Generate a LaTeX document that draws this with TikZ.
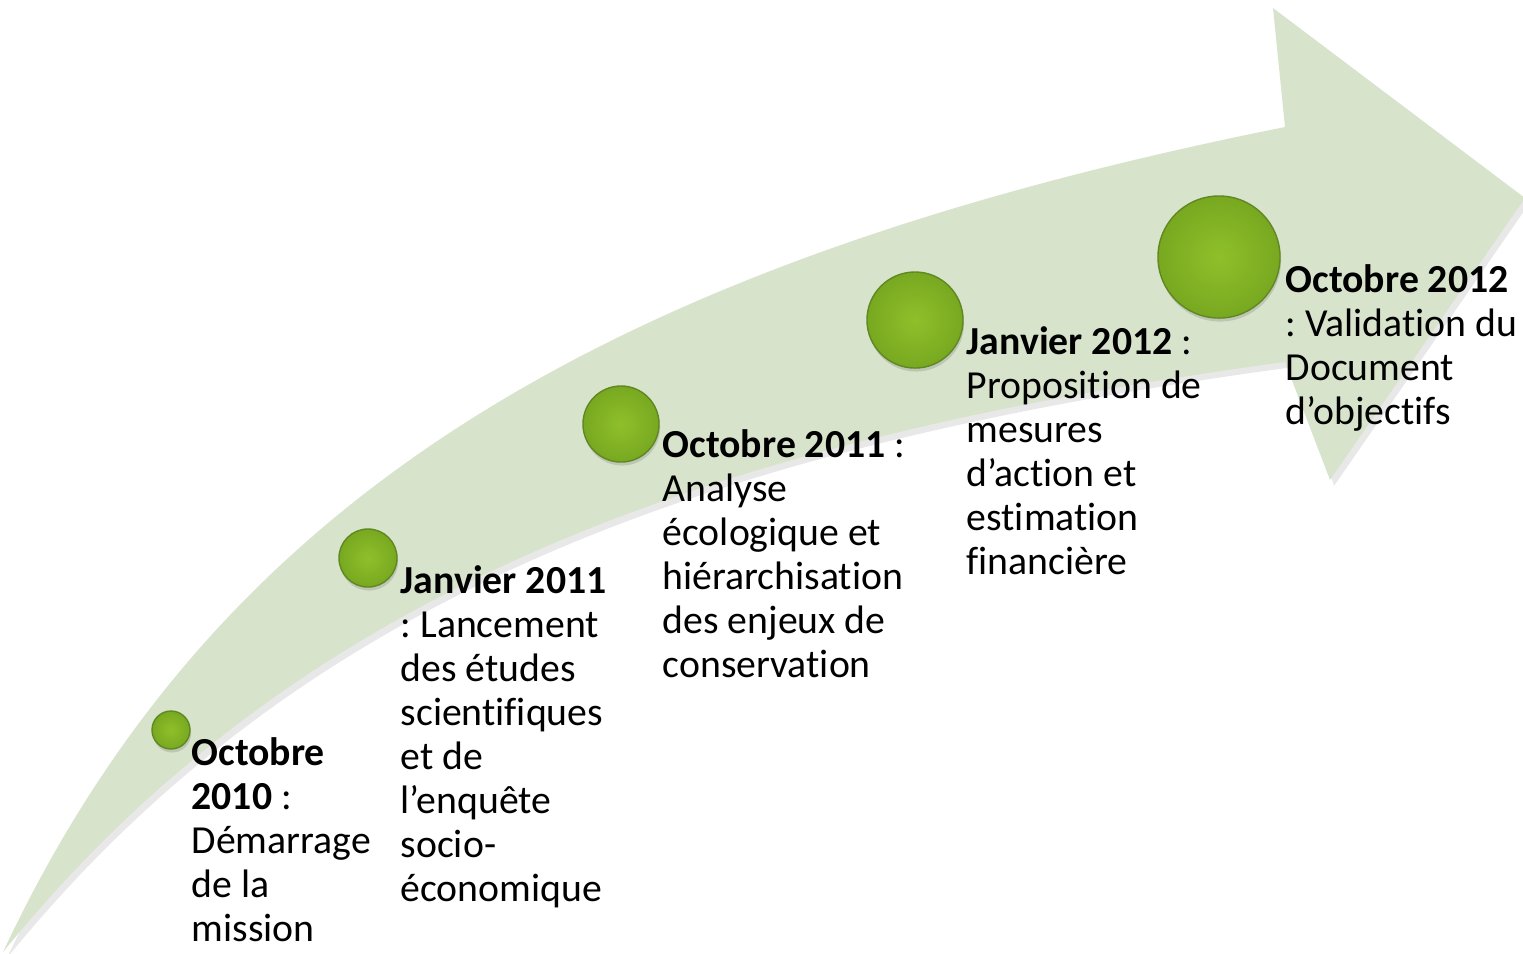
\documentclass[tikz,border=0pt]{standalone}
\usepackage{fontspec}
\setmainfont[Ligatures=CommonOff]{Carlito}
\usetikzlibrary{shadows,positioning}
\definecolor{fleche}{RGB}{216,227,204}
\definecolor{boulein}{RGB}{143,192,42}
\definecolor{bouleout}{RGB}{120,168,32}
\definecolor{bouleedge}{RGB}{96,136,32}

\tikzset{
  jalon/.style={circle, draw=bouleedge, line width=0.4pt, inner sep=0pt,
    inner color=boulein, outer color=bouleout,
    drop shadow={opacity=0.3, shadow xshift=0.3pt, shadow yshift=-1pt}},
  etape/.style={anchor=base west, align=left, inner sep=0pt,
    font=\fontsize{11.3}{12.5}\selectfont}
}

\begin{document}
\frenchspacing
\begin{tikzpicture}[x=0.01cm, y=-0.01cm]
    \useasboundingbox (0,0) rectangle (1523,953);

    % Curved arrow
    \fill[fleche, drop shadow={opacity=0.18, shadow xshift=1.2pt, shadow yshift=-1.6pt}]
        (3,952) .. controls (210,511) and (585,267) .. (1285,127)
        -- (1273,8) -- (1525,198) -- (1330,480) -- (1285,362)
        .. controls (685,443) and (290,599) .. (3,952) -- cycle;

    % Milestones
    \node[jalon, minimum size=0.38cm] (oct10) at (171,730) {};
    \node[jalon, minimum size=0.58cm] (jan11) at (368,558) {};
    \node[jalon, minimum size=0.76cm] (oct11) at (621,424) {};
    \node[jalon, minimum size=0.96cm] (jan12) at (915,320) {};
    \node[jalon, minimum size=1.22cm] (oct12) at (1219,257) {};

    % Labels (anchored on the baseline of their last line)
    \node[etape] (t-oct10) at (191,941)
        {\textbf{Octobre}\\\textbf{2010} :\\Démarrage\\de la\\mission};
    \node[etape] (t-jan11) at (400,901)
        {\textbf{Janvier 2011}\\: Lancement\\des études\\scientifiques\\et de\\l’enquête\\socio-\\économique};
    \node[etape] (t-oct11) at (662,677)
        {\textbf{Octobre 2011} :\\Analyse\\écologique et\\hiérarchisation\\des enjeux de\\conservation};
    \node[etape] (t-jan12) at (966,574)
        {\textbf{Janvier 2012} :\\Proposition de\\mesures\\d’action et\\estimation\\financière};
    \node[etape] (t-oct12) at (1285,424)
        {\textbf{Octobre 2012}\\: Validation du\\Document\\d’objectifs};
\end{tikzpicture}
\end{document}
